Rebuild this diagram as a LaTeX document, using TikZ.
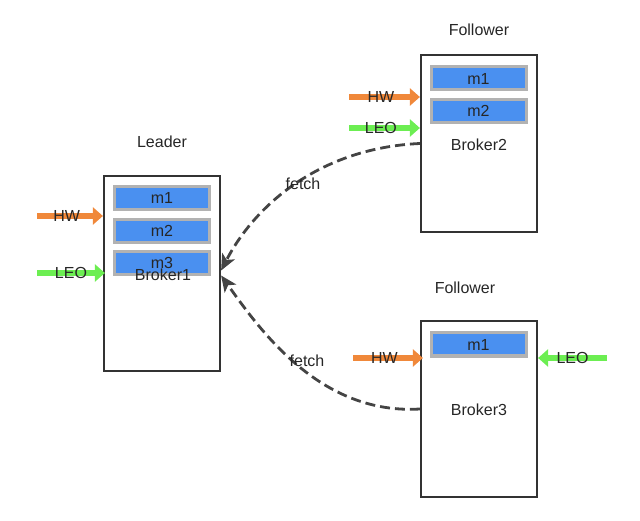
\documentclass[tikz,border=0pt]{standalone}
\usepackage{fontspec}
\setmainfont{Liberation Sans}
\usepackage{tikz}
\usetikzlibrary{positioning,arrows.meta}
\usepackage{xcolor}
\definecolor{msgblue}{RGB}{74,144,240}
\definecolor{msggray}{RGB}{178,178,178}
\definecolor{hworange}{RGB}{240,136,58}
\definecolor{leogreen}{RGB}{108,238,82}
\definecolor{boxline}{RGB}{51,51,51}
\definecolor{fetchline}{RGB}{68,68,68}

\begin{document}
\begin{tikzpicture}[x=1pt,y=-1pt,
  every node/.style={font=\fontsize{16}{18}\selectfont, text=black!85},
  broker/.style={draw=boxline, line width=2.2pt, minimum width=116pt, minimum height=#1, inner sep=0pt},
  msg/.style={draw=msggray, fill=msgblue, line width=3pt, minimum width=95pt, minimum height=23pt, inner sep=0pt},
  hw/.style={draw=hworange, line width=5.5pt, -{Triangle[length=10pt,width=17pt]}},
  leo/.style={draw=leogreen, line width=5.5pt, -{Triangle[length=10pt,width=17pt]}},
  fetch/.style={draw=fetchline, line width=2.8pt, dash pattern=on 10pt off 5pt, -{Stealth[length=16pt,width=14pt,inset=4pt]}}]
  \useasboundingbox (0,0) rectangle (640,521);

  % Leader
  \node[broker=195pt] (b1) at (162,273.5) {};
  \node (lead) at (162,142) {Leader};
  \node[msg] (b1m1) at (162,198) {m1};
  \node[msg] (b1m2) at (162,231) {m2};
  \node[msg] (b1m3) at (162,263) {m3};
  \node (b1txt) at (163,275) {Broker1};
  \coordinate (hw1) at (37,216);
  \coordinate (leo1) at (37,273);
  \draw[hw] (hw1) -- (b1.west |- hw1) node[pos=0.45] {HW};
  \draw[leo] (leo1) -- ([xshift=2pt]b1.west |- leo1) node[pos=0.5] {LEO};

  % Follower 1
  \node[broker=177pt] (b2) at (479,143.5) {};
  \node (fol2) at (479,30) {Follower};
  \node[msg] (b2m1) at (478.5,78.5) {m1};
  \node[msg] (b2m2) at (478.5,111) {m2};
  \node (b2txt) at (479,145) {Broker2};
  \coordinate (hw2) at (349,97);
  \coordinate (leo2) at (349,128);
  \draw[hw] (hw2) -- (b2.west |- hw2) node[pos=0.45] {HW};
  \draw[leo] (leo2) -- (b2.west |- leo2) node[pos=0.45] {LEO};

  % Follower 2
  \node[broker=176pt] (b3) at (479,409) {};
  \node (fol3) at (465,288) {Follower};
  \node[msg] (b3m1) at (478.5,344.5) {m1};
  \node (b3txt) at (479,410) {Broker3};
  \coordinate (hw3) at (353,358);
  \coordinate (leo3) at (607,358);
  \draw[hw] (hw3) -- ([xshift=3pt]b3.west |- hw3) node[pos=0.45] {HW};
  \draw[leo] (leo3) -- (b3.east |- leo3) node[pos=0.5] {LEO};

  % fetch
  \draw[fetch] (b2.west) .. controls (320,148) and (255,205) .. ([yshift=3pt]b1.east);
  \node (f1) at (303,184) {fetch};
  \draw[fetch] (b3.west) .. controls (320,415) and (260,330) .. ([yshift=-2pt]b1.east);
  \node (f2) at (307,361) {fetch};
\end{tikzpicture}
\end{document}
